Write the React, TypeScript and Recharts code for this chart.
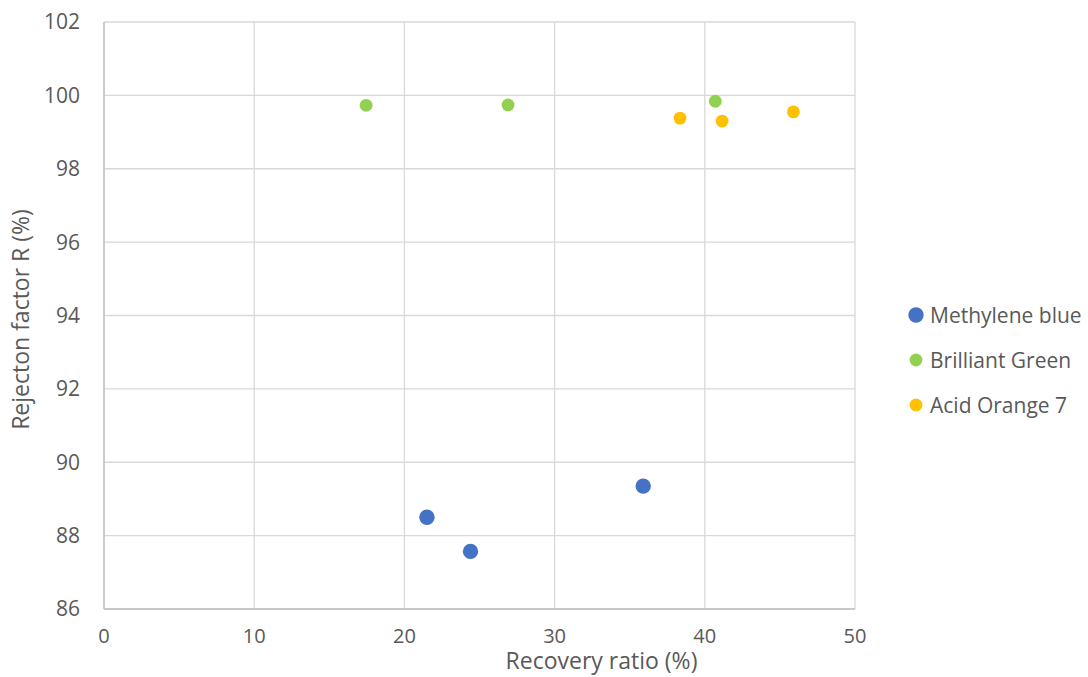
import React from "react";
import { ScatterChart, Scatter, XAxis, YAxis, CartesianGrid } from "recharts";

// Recovery ratio (%) vs rejection factor (%) for each dye
const methyleneBlue = [
  { x: 21.5, y: 88.5 },
  { x: 24.4, y: 87.57 },
  { x: 35.9, y: 89.35 },
];
const brilliantGreen = [
  { x: 17.45, y: 99.73 },
  { x: 26.9, y: 99.74 },
  { x: 40.7, y: 99.84 },
];
const acidOrange7 = [
  { x: 38.35, y: 99.38 },
  { x: 41.15, y: 99.3 },
  { x: 45.9, y: 99.55 },
];

const xTicks = [0, 10, 20, 30, 40, 50];
const yTicks = [86, 88, 90, 92, 94, 96, 98, 100, 102];

const seriesList = [
  { name: "Methylene blue", data: methyleneBlue, color: "#4472C4", r: 7.7 },
  { name: "Brilliant Green", data: brilliantGreen, color: "#92D050", r: 6.4 },
  { name: "Acid Orange 7", data: acidOrange7, color: "#FFC000", r: 6.4 },
];

const textColor = "#595959";
const font = "'Open Sans', 'Noto Sans', sans-serif";

const LegendBox = () => (
  <div
    style={{
      position: "absolute",
      left: 908,
      top: 292,
      fontFamily: font,
      fontSize: 21,
      color: textColor,
      whiteSpace: "nowrap",
    }}
  >
    {seriesList.map((s) => (
      <div
        key={s.name}
        style={{ display: "flex", alignItems: "center", height: 45 }}
      >
        <svg width={16} height={16} style={{ marginRight: 6, flex: "none" }}>
          <circle cx={8} cy={8} r={s.r} fill={s.color} />
        </svg>
        <span>{s.name}</span>
      </div>
    ))}
  </div>
);

export default function App() {
  return (
    <div
      style={{
        position: "absolute",
        left: 0,
        top: 0,
        width: 1088,
        height: 677,
        background: "#fff",
      }}
    >
      <ScatterChart
        width={1088}
        height={677}
        margin={{ top: 22, right: 233, bottom: 0, left: 0 }}
      >
        <CartesianGrid stroke="#D9D9D9" strokeWidth={1.3} />
        <XAxis
          type="number"
          dataKey="x"
          domain={[0, 50]}
          ticks={xTicks}
          interval={0}
          tickLine={false}
          axisLine={{ stroke: "#BFBFBF", strokeWidth: 1.3 }}
          tick={{ fill: textColor, fontSize: 20, fontFamily: font }}
          tickMargin={14}
          height={68}
          label={{
            value: "Recovery ratio (%)",
            position: "insideBottom",
            offset: 8,
            dx: 122,
            fill: textColor,
            fontSize: 23,
            fontFamily: font,
          }}
        />
        <YAxis
          type="number"
          dataKey="y"
          domain={[86, 102]}
          ticks={yTicks}
          interval={0}
          tickLine={false}
          axisLine={{ stroke: "#BFBFBF", strokeWidth: 1.3 }}
          tick={{ fill: textColor, fontSize: 21, fontFamily: font }}
          tickMargin={18}
          width={104}
          label={{
            value: "Rejecton factor R (%)",
            angle: -90,
            position: "insideLeft",
            offset: 21,
            dy: 4,
            fill: textColor,
            fontSize: 23,
            fontFamily: font,
            style: { textAnchor: "middle" },
          }}
        />
        {seriesList.map((s) => (
          <Scatter
            key={s.name}
            name={s.name}
            data={s.data}
            fill={s.color}
            isAnimationActive={false}
            shape={(p: any) => (
              <circle cx={p.cx} cy={p.cy} r={s.r} fill={s.color} />
            )}
          />
        ))}
      </ScatterChart>
      <LegendBox />
    </div>
  );
}
